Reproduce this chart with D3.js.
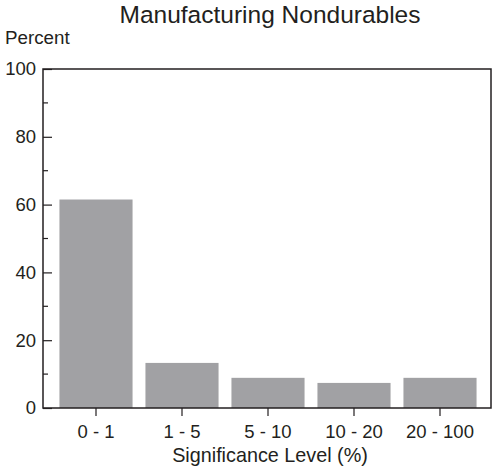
<!DOCTYPE html>
<html><head><meta charset="utf-8">
<script src="https://cdn.jsdelivr.net/npm/d3@7"></script>
<style>body{margin:0;background:#fff}svg{display:block;font-family:"Liberation Sans",Arial,sans-serif}</style>
</head><body>
<svg id="c" width="493" height="468"></svg>
<script>
const categories = ["0 - 1", "1 - 5", "5 - 10", "10 - 20", "20 - 100"];
const values = [61.5, 13.3, 8.9, 7.4, 8.9];
const majorTicks = [0, 20, 40, 60, 80, 100];
const minorTicks = [10, 30, 50, 70, 90];

const svg = d3.select("#c");
const L = 43, R = 491, T = 69, B = 408;
const x = d3.scaleBand().domain(categories).range([53, 483]).paddingInner(0.15).paddingOuter(0.075);
const y = d3.scaleLinear().domain([0, 100]).range([B, T]);
const ink = "#231f20";
const FF = "Liberation Sans, Arial, sans-serif";

svg.append("g").selectAll("rect").data(values).join("rect")
  .attr("x", (d, i) => x(categories[i]))
  .attr("width", x.bandwidth())
  .attr("y", d => y(d))
  .attr("height", d => B - y(d))
  .attr("fill", "#a1a1a4");

// frame
svg.append("rect").attr("x", L).attr("y", T).attr("width", R - L).attr("height", B - T)
  .attr("fill", "none").attr("stroke", ink).attr("stroke-width", 1.5);

// left axis
const ya = svg.append("g").attr("transform", `translate(${L},0)`)
  .call(d3.axisLeft(y).tickValues(majorTicks).tickSize(-9).tickPadding(7).tickFormat(d3.format("d")));
ya.select(".domain").remove();
ya.selectAll("text").attr("font-size", 18.5).attr("fill", ink).attr("font-family", FF);
ya.selectAll("line").attr("stroke", ink).attr("stroke-width", 1.2);
svg.append("g").selectAll("line").data(minorTicks).join("line")
  .attr("x1", L).attr("x2", L + 5).attr("y1", d => y(d)).attr("y2", d => y(d))
  .attr("stroke", ink).attr("stroke-width", 1.2);

// bottom axis
const xa = svg.append("g").attr("transform", `translate(0,${B})`)
  .call(d3.axisBottom(x).tickSize(8).tickPadding(9));
xa.select(".domain").remove();
xa.selectAll("text").attr("font-size", 18.5).attr("fill", ink).attr("font-family", FF);
xa.selectAll("line").attr("stroke", ink).attr("stroke-width", 1.2);

svg.append("text").attr("x", 270).attr("y", 23).attr("text-anchor", "middle")
  .attr("font-size", 24.5).attr("fill", ink).attr("font-family", FF).text("Manufacturing Nondurables");
svg.append("text").attr("x", 5).attr("y", 44)
  .attr("font-size", 18.8).attr("fill", ink).attr("font-family", FF).text("Percent");
svg.append("text").attr("x", 270).attr("y", 462).attr("text-anchor", "middle")
  .attr("font-size", 19.8).attr("fill", ink).attr("font-family", FF).text("Significance Level (%)");
</script>
</body></html>
